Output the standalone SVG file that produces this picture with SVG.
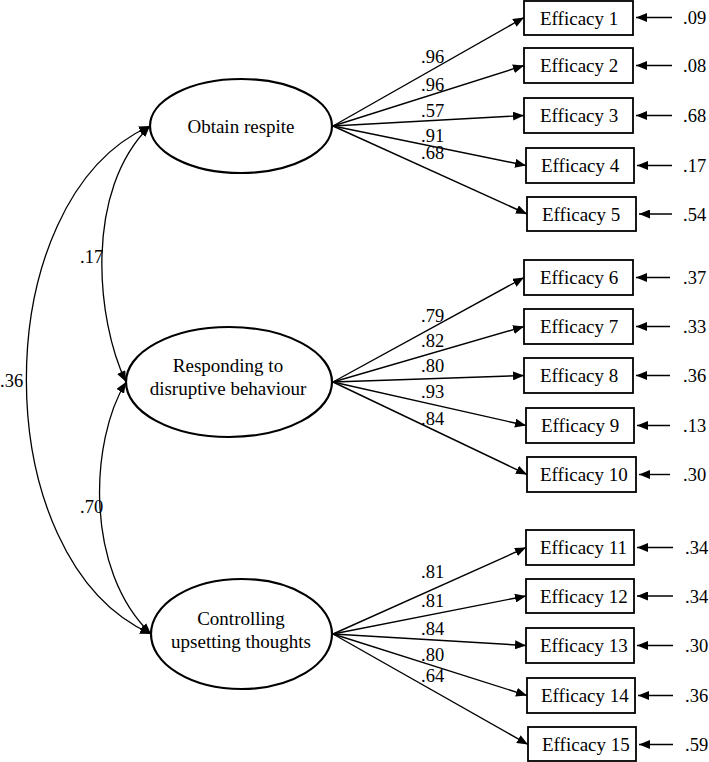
<svg xmlns="http://www.w3.org/2000/svg" width="709" height="762" viewBox="0 0 709 762">
<defs>
<marker id="ah" markerUnits="userSpaceOnUse" markerWidth="11" markerHeight="9" refX="11" refY="4.5" orient="auto-start-reverse">
<path d="M0,0 L11,4.5 L0,9 z" fill="#000"/>
</marker>
<style>
text{font-family:"Liberation Serif","Times New Roman",serif;font-size:19px;fill:#000}
.n{font-size:18.5px}
.lat{fill:#fff;stroke:#000;stroke-width:2.2}
.box{fill:#fff;stroke:#000;stroke-width:1.8}
.c{text-anchor:middle}
.ar{fill:none;stroke:#000;stroke-width:1.4;marker-end:url(#ah)}
.bi{fill:none;stroke:#000;stroke-width:1.3;marker-start:url(#ah);marker-end:url(#ah)}
</style>
</defs>
<rect width="709" height="762" fill="#fff"/>
<g id="connectors">
<path class="bi" d="M150,126 C84,190 96,320 126,382"/>
<path class="bi" d="M150,126 C-15,200 -15,560 151,634"/>
<path class="bi" d="M126,382 C90,440 84,570 151,634"/>
<line class="ar" x1="333" y1="126" x2="524" y2="17.5"/>
<line class="ar" x1="333" y1="126" x2="524" y2="65.5"/>
<line class="ar" x1="333" y1="126" x2="524" y2="115.5"/>
<line class="ar" x1="333" y1="126" x2="526" y2="165.5"/>
<line class="ar" x1="333" y1="126" x2="527" y2="214"/>
<line class="ar" x1="333" y1="382" x2="524" y2="277.5"/>
<line class="ar" x1="333" y1="382" x2="524" y2="326.5"/>
<line class="ar" x1="333" y1="382" x2="524" y2="375.5"/>
<line class="ar" x1="333" y1="382" x2="526" y2="425.5"/>
<line class="ar" x1="333" y1="382" x2="527" y2="474.5"/>
<line class="ar" x1="333" y1="634" x2="526" y2="547.5"/>
<line class="ar" x1="333" y1="634" x2="526" y2="596"/>
<line class="ar" x1="333" y1="634" x2="526" y2="645.5"/>
<line class="ar" x1="333" y1="634" x2="527" y2="695.5"/>
<line class="ar" x1="333" y1="634" x2="528" y2="744.5"/>
<line class="ar" x1="672" y1="17.5" x2="636" y2="17.5"/>
<line class="ar" x1="672" y1="65.5" x2="636" y2="65.5"/>
<line class="ar" x1="672" y1="115.5" x2="636" y2="115.5"/>
<line class="ar" x1="672" y1="165.5" x2="637" y2="165.5"/>
<line class="ar" x1="672" y1="214" x2="639" y2="214"/>
<line class="ar" x1="670" y1="277.5" x2="636" y2="277.5"/>
<line class="ar" x1="670" y1="326.5" x2="636" y2="326.5"/>
<line class="ar" x1="670" y1="375.5" x2="636" y2="375.5"/>
<line class="ar" x1="670" y1="425.5" x2="637" y2="425.5"/>
<line class="ar" x1="670" y1="474.5" x2="639" y2="474.5"/>
<line class="ar" x1="673" y1="547.5" x2="637" y2="547.5"/>
<line class="ar" x1="673" y1="596" x2="637" y2="596"/>
<line class="ar" x1="673" y1="645.5" x2="637" y2="645.5"/>
<line class="ar" x1="673" y1="695.5" x2="638" y2="695.5"/>
<line class="ar" x1="673" y1="744.5" x2="639" y2="744.5"/>
<text class="n" x="80" y="263">.17</text>
<text class="n" x="0" y="387">.36</text>
<text class="n" x="80" y="513">.70</text>
<text class="n" x="421" y="63">.96</text>
<text class="n" x="421" y="91">.96</text>
<text class="n" x="421" y="116.5">.57</text>
<text class="n" x="421" y="142">.91</text>
<text class="n" x="421" y="159">.68</text>
<text class="n" x="421" y="322">.79</text>
<text class="n" x="421" y="347">.82</text>
<text class="n" x="421" y="372">.80</text>
<text class="n" x="421" y="398">.93</text>
<text class="n" x="421" y="425">.84</text>
<text class="n" x="421" y="578">.81</text>
<text class="n" x="421" y="607">.81</text>
<text class="n" x="421" y="635">.84</text>
<text class="n" x="421" y="661">.80</text>
<text class="n" x="421" y="682">.64</text>
<text class="n" x="683" y="24">.09</text>
<text class="n" x="683" y="72">.08</text>
<text class="n" x="683" y="122">.68</text>
<text class="n" x="683" y="172">.17</text>
<text class="n" x="683" y="220.5">.54</text>
<text class="n" x="683" y="284">.37</text>
<text class="n" x="683" y="333">.33</text>
<text class="n" x="683" y="382">.36</text>
<text class="n" x="683" y="432">.13</text>
<text class="n" x="683" y="481">.30</text>
<text class="n" x="685" y="554">.34</text>
<text class="n" x="685" y="602.5">.34</text>
<text class="n" x="685" y="652">.30</text>
<text class="n" x="685" y="702">.36</text>
<text class="n" x="685" y="751">.59</text>
</g>
<g id="obtain_respite">
<ellipse class="lat" cx="241" cy="126" rx="91" ry="47"/>
<text class="c" x="241" y="133">Obtain respite</text>
</g>
<g id="responding">
<ellipse class="lat" cx="229" cy="382" rx="103" ry="55"/>
<text class="c" x="228" y="372">Responding to</text>
<text class="c" x="228" y="395">disruptive behaviour</text>
</g>
<g id="controlling">
<ellipse class="lat" cx="241.5" cy="634" rx="90.5" ry="55"/>
<text class="c" x="241" y="625">Controlling</text>
<text class="c" x="241" y="648">upsetting thoughts</text>
</g>
<g id="e1"><rect class="box" x="524" y="1" width="109" height="34"/><text x="540" y="24.5">Efficacy 1</text></g>
<g id="e2"><rect class="box" x="524" y="48" width="109" height="35"/><text x="540" y="72">Efficacy 2</text></g>
<g id="e3"><rect class="box" x="524" y="98" width="109" height="35"/><text x="540" y="122">Efficacy 3</text></g>
<g id="e4"><rect class="box" x="526" y="148" width="108" height="35"/><text x="541" y="172">Efficacy 4</text></g>
<g id="e5"><rect class="box" x="527" y="197" width="109" height="34"/><text x="542" y="220.5">Efficacy 5</text></g>
<g id="e6"><rect class="box" x="524" y="260" width="109" height="35"/><text x="540" y="284">Efficacy 6</text></g>
<g id="e7"><rect class="box" x="524" y="309" width="109" height="35"/><text x="540" y="333">Efficacy 7</text></g>
<g id="e8"><rect class="box" x="524" y="358" width="109" height="35"/><text x="540" y="382">Efficacy 8</text></g>
<g id="e9"><rect class="box" x="526" y="408" width="108" height="35"/><text x="541" y="432">Efficacy 9</text></g>
<g id="e10"><rect class="box" x="527" y="457" width="109" height="35"/><text x="540" y="481">Efficacy 10</text></g>
<g id="e11"><rect class="box" x="526" y="530" width="108" height="35"/><text x="540" y="554">Efficacy 11</text></g>
<g id="e12"><rect class="box" x="526" y="579" width="108" height="34"/><text x="540" y="602.5">Efficacy 12</text></g>
<g id="e13"><rect class="box" x="526" y="628" width="108" height="35"/><text x="540" y="652">Efficacy 13</text></g>
<g id="e14"><rect class="box" x="527" y="678" width="108" height="35"/><text x="541" y="702">Efficacy 14</text></g>
<g id="e15"><rect class="box" x="528" y="727" width="108" height="34"/><text x="542" y="751">Efficacy 15</text></g>
</svg>
